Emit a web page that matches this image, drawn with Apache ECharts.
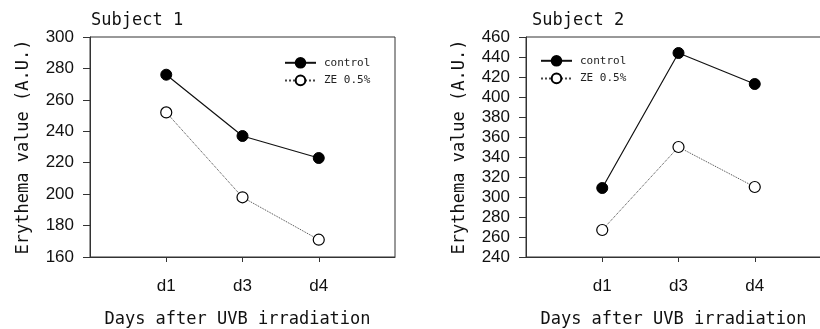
<!DOCTYPE html>
<html>
<head>
<meta charset="utf-8">
<script src="https://cdn.jsdelivr.net/npm/echarts@6/dist/echarts.min.js"></script>
<style>
  html, body { margin: 0; padding: 0; background: #fff; }
  #main { width: 820px; height: 329px; }
</style>
</head>
<body>
<div id="main"></div>
<script>
var days = ['d1', 'd3', 'd4'];
var s1Control = [276, 237, 223];
var s1ZE = [252, 198, 171];
var s2Control = [309, 444, 413];
var s2ZE = [267, 350, 310];

// pad with empty slots so the three days sit at 1/4, 2/4, 3/4 of the box
var cats = [''].concat(days, ['']);
function pad(arr) { return [null].concat(arr, [null]); }

var mono = 'DejaVu Sans Mono';
var sans = 'Liberation Sans';
var axisCol = '#333';

function xAx(gi) {
  return {
    type: 'category', gridIndex: gi, data: cats, boundaryGap: false,
    name: 'Days after UVB irradiation', nameLocation: 'middle', nameGap: 54,
    nameTextStyle: { fontFamily: mono, fontSize: 17, color: '#111', padding: [0, 10, 0, 0] },
    axisLine: { lineStyle: { color: axisCol, width: 1 } },
    axisTick: { length: 5, lineStyle: { color: axisCol }, interval: function (i, v) { return v !== ''; } },
    axisLabel: { fontFamily: sans, fontSize: 17, color: '#111', margin: 21, interval: function (i, v) { return v !== ''; } },
    splitLine: { show: false }
  };
}
function yAx(gi, min, max) {
  return {
    type: 'value', gridIndex: gi, min: min, max: max, interval: 20,
    name: 'Erythema value (A.U.)', nameLocation: 'middle', nameGap: 58,
    nameTextStyle: { fontFamily: mono, fontSize: 17, color: '#111' },
    axisLine: { show: true, lineStyle: { color: axisCol, width: 1 } },
    axisTick: { show: true, length: 7, lineStyle: { color: axisCol } },
    axisLabel: { fontFamily: sans, fontSize: 17, color: '#111', margin: 16 },
    splitLine: { show: false }
  };
}
function ctrl(name, gi, data) {
  return {
    name: name, type: 'line', xAxisIndex: gi, yAxisIndex: gi, data: pad(data),
    symbol: 'circle', symbolSize: 11,
    itemStyle: { color: '#000', borderColor: '#000', borderWidth: 1 },
    lineStyle: { color: '#111', width: 1.2, type: 'solid' }
  };
}
function ze(name, gi, data) {
  return {
    name: name, type: 'line', xAxisIndex: gi, yAxisIndex: gi, data: pad(data),
    symbol: 'circle', symbolSize: 11,
    itemStyle: { color: '#fff', borderColor: '#000', borderWidth: 1.2 },
    lineStyle: { color: '#444', width: 1, type: 'dotted' }
  };
}
function leg(left, top) {
  return {
    orient: 'vertical', left: left, top: top, padding: 0,
    itemWidth: 31, itemHeight: 12, itemGap: 6,
    data: ['control', 'ZE 0.5%'],
    textStyle: { fontFamily: mono, fontSize: 11, color: '#222', padding: [0, 0, 0, 3] },
    selectedMode: false
  };
}
function grd(left) {
  return {
    left: left, top: 37, width: 305, height: 220, outerBoundsMode: 'none', containLabel: false,
    show: true, borderColor: axisCol, borderWidth: 1, backgroundColor: 'transparent'
  };
}

var chart = echarts.init(document.getElementById('main'));
chart.setOption({
  backgroundColor: '#fff',
  animation: false,
  title: [
    { text: 'Subject 1', left: 86, top: 7, textStyle: { fontFamily: mono, fontSize: 17, fontWeight: 'normal', color: '#111' } },
    { text: 'Subject 2', left: 527, top: 7, textStyle: { fontFamily: mono, fontSize: 17, fontWeight: 'normal', color: '#111' } }
  ],
  legend: [leg(284, 57), leg(540, 55)],
  grid: [grd(90), grd(526)],
  xAxis: [xAx(0), xAx(1)],
  yAxis: [yAx(0, 160, 300), yAx(1, 240, 460)],
  series: [
    ctrl('control', 0, s1Control), ze('ZE 0.5%', 0, s1ZE),
    ctrl('control', 1, s2Control), ze('ZE 0.5%', 1, s2ZE)
  ]
});
</script>
</body>
</html>
